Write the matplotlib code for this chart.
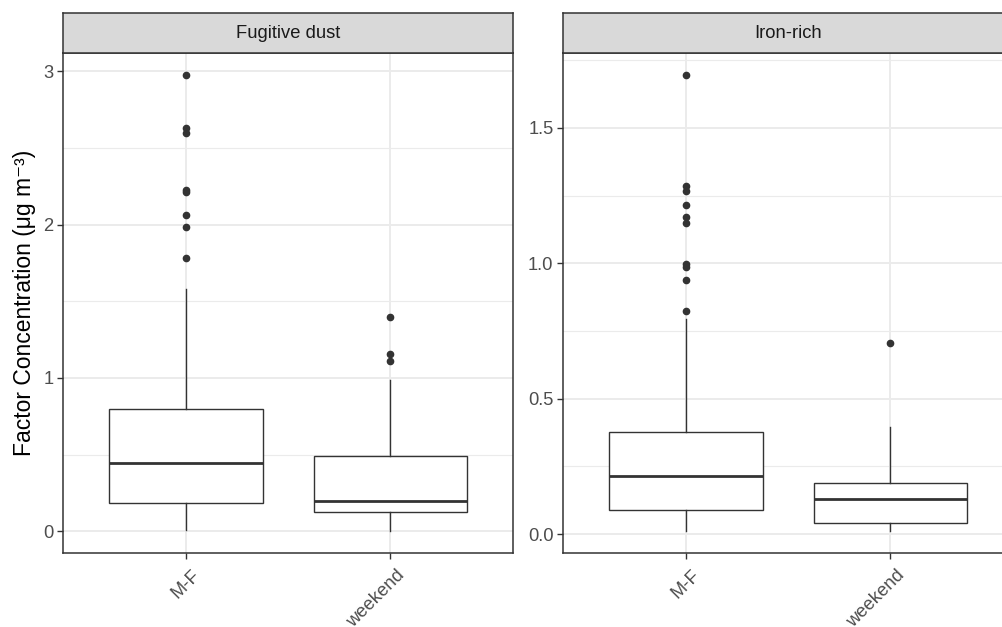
import numpy as np
import matplotlib.pyplot as plt
import matplotlib.transforms as mtransforms

plt.rcParams['font.family'] = ['Liberation Sans', 'DejaVu Sans']

# day-type groups shown on the x axis
categories = ['M-F', 'weekend']

# Fugitive dust box statistics (ug m-3)
dust_whislo = [0.010, 0.004]
dust_q1 = [0.187, 0.124]
dust_med = [0.442, 0.198]
dust_q3 = [0.797, 0.492]
dust_whishi = [1.58, 0.987]
dust_fliers = [[2.974, 2.63, 2.60, 2.229, 2.213, 2.065, 1.987, 1.784],
               [1.40, 1.157, 1.108]]

# Iron-rich box statistics (ug m-3)
iron_whislo = [0.013, 0.013]
iron_q1 = [0.088, 0.040]
iron_med = [0.215, 0.130]
iron_q3 = [0.377, 0.189]
iron_whishi = [0.794, 0.395]
iron_fliers = [[1.694, 1.284, 1.267, 1.215, 1.172, 1.148, 0.998, 0.988, 0.940, 0.825],
               [0.704]]

panels = [
    ('Fugitive dust', dust_whislo, dust_q1, dust_med, dust_q3, dust_whishi, dust_fliers,
     [0, 1, 2, 3], ['0', '1', '2', '3']),
    ('Iron-rich', iron_whislo, iron_q1, iron_med, iron_q3, iron_whishi, iron_fliers,
     [0, 0.5, 1.0, 1.5], ['0.0', '0.5', '1.0', '1.5']),
]

dark = '#333333'
grid_col = '#EBEBEB'
tick_col = '#4D4D4D'

fig = plt.figure(figsize=(10.03, 6.27), dpi=100)

lefts = [63.3 / 1003, 563.3 / 1003]
width = 449.7 / 1003
bottom = 73.7 / 627
height = 500.6 / 627
strip_h = 39.4 / 627

for left, (title, wlo, q1, med, q3, whi, fl, yt, ytl) in zip(lefts, panels):
    ax = fig.add_axes([left, bottom, width, height])
    stats = []
    for i in range(len(categories)):
        stats.append(dict(whislo=wlo[i], q1=q1[i], med=med[i], q3=q3[i],
                          whishi=whi[i], fliers=fl[i], label=categories[i]))
    ax.bxp(stats, positions=[1, 2], widths=0.75, showcaps=False, patch_artist=True,
           boxprops=dict(facecolor='white', edgecolor=dark, linewidth=1.0),
           whiskerprops=dict(color=dark, linewidth=1.0),
           medianprops=dict(color=dark, linewidth=2.0),
           flierprops=dict(marker='o', markersize=4.5, markerfacecolor=dark,
                           markeredgecolor=dark, linestyle='none'),
           zorder=3)

    ax.set_yticks(yt)
    ax.set_yticklabels(ytl)
    step = yt[1] - yt[0]
    minor = [v + step / 2 for v in yt]
    ax.set_yticks(minor, minor=True)
    ax.set_xticks([1, 2])

    # ggplot-style 5% expansion of the data range
    all_vals = wlo + whi + [v for f in fl for v in f]
    lo, hi = min(all_vals), max(all_vals)
    pad = 0.05 * (hi - lo)
    ax.set_ylim(lo - pad, hi + pad)
    ax.set_xlim(0.4, 2.6)

    ax.grid(True, which='major', color=grid_col, linewidth=1.4, zorder=0)
    ax.grid(True, which='minor', axis='y', color=grid_col, linewidth=0.8, zorder=0)
    ax.set_axisbelow(True)

    ax.tick_params(axis='both', which='major', length=4.1, width=1.0, color=dark,
                   labelsize=13.2, labelcolor=tick_col, pad=3)
    ax.tick_params(axis='y', which='minor', length=0)

    # rotated day-type labels, nudged right and down
    ax.set_xticklabels(categories, rotation=45, ha='right', va='top',
                       rotation_mode='anchor')
    shift = mtransforms.ScaledTranslation(6 / 100, -3 / 100, fig.dpi_scale_trans)
    for lab in ax.get_xticklabels():
        lab.set_transform(lab.get_transform() + shift)

    for sp in ax.spines.values():
        sp.set_color(dark)
        sp.set_linewidth(1.1)

    # facet strip
    sax = fig.add_axes([left, bottom + height, width, strip_h])
    sax.set_facecolor('#D9D9D9')
    sax.set_xticks([])
    sax.set_yticks([])
    for sp in sax.spines.values():
        sp.set_color(dark)
        sp.set_linewidth(1.1)
    sax.text(0.5, 0.5, title, ha='center', va='center', fontsize=13.2,
             color='#1A1A1A', transform=sax.transAxes)

fig.text(25 / 1003, 1 - 303 / 627, 'Factor Concentration (μg m⁻³)',
         rotation=90, ha='center', va='center', fontsize=16.5, color='black')

fig.savefig('out.png', dpi=100)
